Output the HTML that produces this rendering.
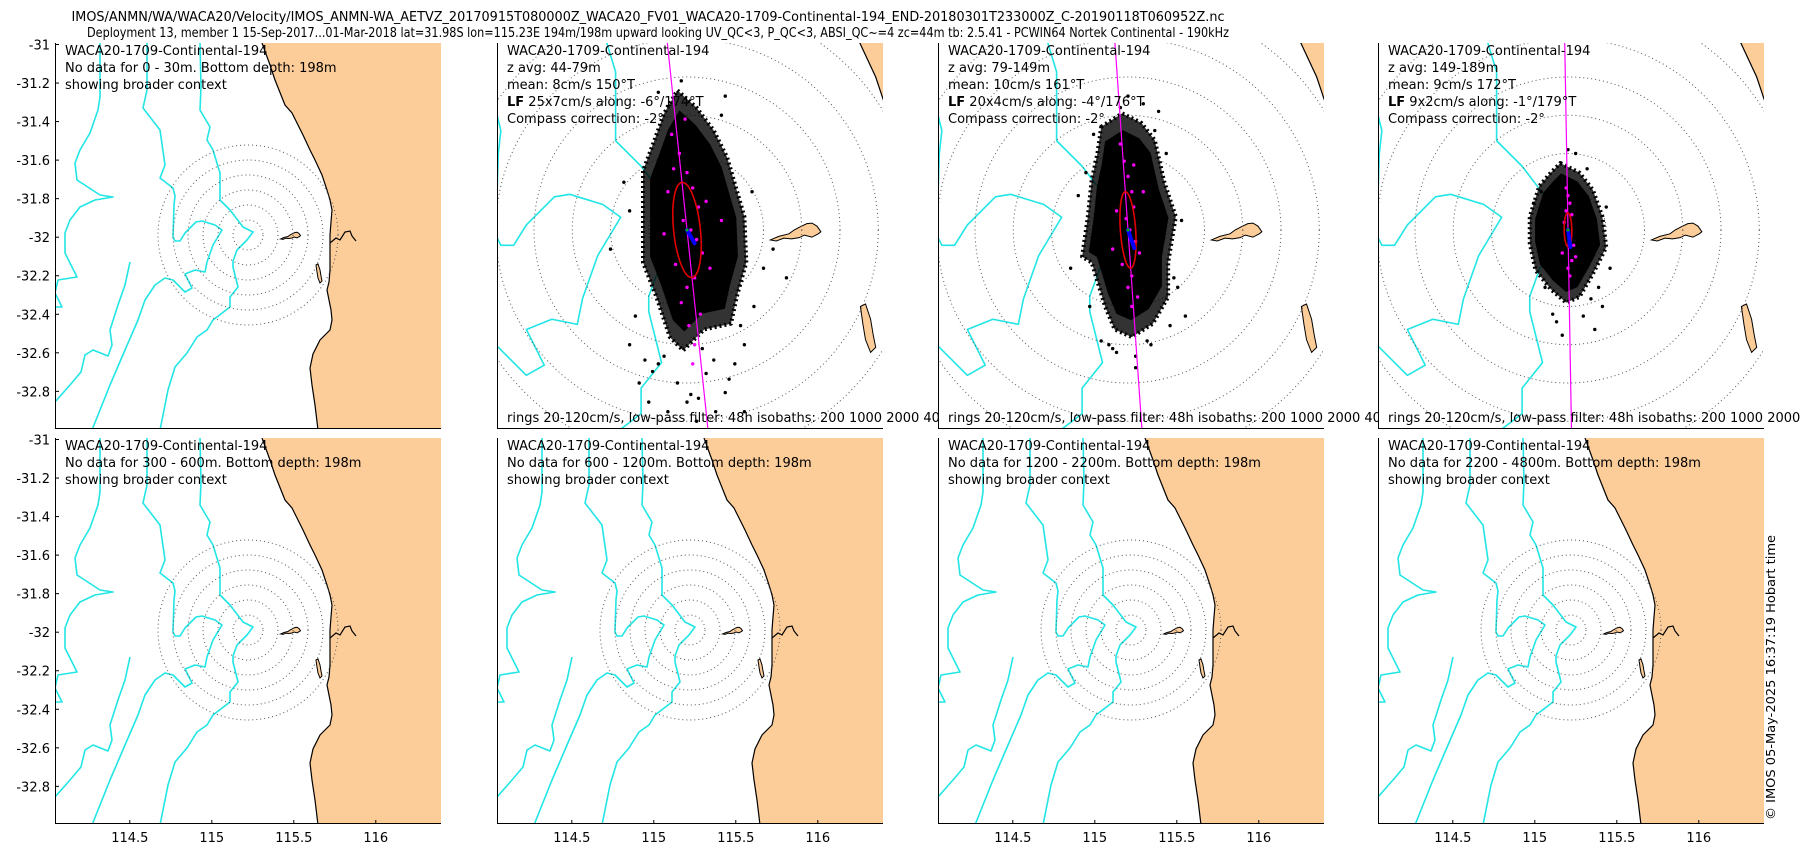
<!DOCTYPE html>
<html><head><meta charset="utf-8"><style>
html,body{margin:0;padding:0;background:#fff}
svg{display:block}
text{font-family:"DejaVu Sans","Liberation Sans",sans-serif;fill:#000}
</style></head><body>
<svg id="fig" xmlns="http://www.w3.org/2000/svg" width="1800" height="850" viewBox="0 0 1800 850">
<rect x="0" y="0" width="1800" height="850" fill="#fff"/>
<text x="648" y="21" font-size="13" text-anchor="middle" textLength="1153" lengthAdjust="spacingAndGlyphs">IMOS/ANMN/WA/WACA20/Velocity/IMOS_ANMN-WA_AETVZ_20170915T080000Z_WACA20_FV01_WACA20-1709-Continental-194_END-20180301T233000Z_C-20190118T060952Z.nc</text>
<text x="658" y="37" font-size="13" text-anchor="middle" textLength="1142" lengthAdjust="spacingAndGlyphs">Deployment 13, member 1 15-Sep-2017...01-Mar-2018 lat=31.98S lon=115.23E 194m/198m upward looking UV_QC&lt;3, P_QC&lt;3, ABSI_QC~=4 zc=44m tb: 2.5.41 - PCWIN64 Nortek Continental - 190kHz</text>
<g id="panels"></g>
<text transform="translate(1775,820) rotate(-90)" font-size="12" textLength="285" lengthAdjust="spacingAndGlyphs">© IMOS 05-May-2025 16:37:19 Hobart time</text>
</svg>
<script>
// ---- data ----
const zAvg = ["44-79m", "79-149m", "149-189m"];
const meanSpeed = [8, 10, 9];          // cm/s
const meanDir = [150, 161, 172];       // deg True
const lfMajor = [25, 20, 9];           // cm/s
const lfMinor = [7, 4, 2];             // cm/s
const alongAngle = [-6, -4, -1];
const alongDir = [174, 176, 179];
const noDataRanges = ["0 - 30m", "300 - 600m", "600 - 1200m", "1200 - 2200m", "2200 - 4800m"];
const latTicks = [-31, -31.2, -31.4, -31.6, -31.8, -32, -32.2, -32.4, -32.6, -32.8];
const lonTicks = [114.5, 115, 115.5, 116];
const ringSpeeds = [20, 40, 60, 80, 100, 120];
// velocity-cloud outlines (u east, v north, cm/s)
const cloudU = [
 [-5,5,14,21,30,31,26,23,9,-2,-9,-16,-23,-23,-23,-17,-12],
 [-14,-3,7,14,19,25,21,21,13,2,-7,-12,-19,-24,-21,-19,-16],
 [-4,6,13,18,20,13,6,-1,-9,-17,-20,-20,-15,-9]];
const cloudV = [
 [73,64,52,38,7,-17,-35,-49,-52,-63,-56,-35,-17,7,31,47,61],
 [54,61,56,47,25,7,-17,-35,-49,-56,-52,-40,-17,-14,7,26,40],
 [35,30,21,7,-9,-23,-35,-38,-31,-21,-7,7,23,30]];
// visible outlier samples (cm/s)
const outU = [
 [-15,-5,10,20,-10,5,15,-20,25,-25,0,10,30,-30,35,40,-30,-40,20,-15,30,-5,45,52,-12,8,-18,2,14,-8,22,-22,6,-3,18,-27,34,-33,28,12],
 [-8,4,12,-14,22,28,-26,-30,4,8,-4,26,30,-18,16,-10,20,-22,10,0,24,-20,-6,14],
 [-6,8,14,18,-3,22,-18,4,12,-12,10,-14,16,0,-8,20]];
const outV = [
 [-70,-80,-75,-85,-95,-100,-95,-90,-70,-80,-90,-105,-60,-60,-40,-20,10,-10,70,72,-95,-105,-10,-25,-66,-62,-74,-86,-68,-110,-78,-68,-88,78,60,-45,20,25,-50,-112],
 [-62,-66,-60,-58,-50,5,18,-20,-72,66,64,-30,-45,50,62,-60,40,30,-58,70,-25,-40,-64,52],
 [-48,-45,-52,-40,-55,-20,14,40,-36,-30,32,20,-30,42,-44,12]];
const magU = [
 [-8,-4,0,3,6,-2,2,5,8,-6,4,0,-3,7,10,-10,1,-1,12,4,-7,3,18,-12],
 [-4,-2,0,2,3,-1,1,4,6,-3,2,0,-6,5,8,-8,2,3],
 [-1,0,1,2,-2,0,1,3,-3,2,0,1,-1,4]];
const magV = [
 [50,40,30,22,12,5,0,-5,-12,-18,-25,-30,-38,-44,15,20,-50,58,-20,-60,32,-70,5,-2],
 [45,36,28,20,12,6,0,-6,-12,-18,-24,-30,10,-35,20,-10,-40,34],
 [22,18,14,8,4,0,-4,-8,-12,-16,-20,-24,10,-14]];
// ---- map geometry (panel-1 pixel frame, absolute) ----
const coast = [[262,43],[270,65],[275,80],[285,105],[292,113],[298,125],[303,135],[310,150],[315,160],[322,175],[327,190],[330,200],[332,210],[331,222],[330,235],[330,245],[330,258],[330,270],[329,282],[327,290],[329,300],[331,310],[332,320],[330,330],[320,340],[313,354],[310,368],[312,385],[315,405],[318,430]];
const river = [[330,243],[336,238],[340,240],[345,232],[350,231],[352,236],[356,241]];
const rottnest = [[280.7,238.9],[284,237.5],[288,236.5],[290,235],[292.5,233.7],[295,232.5],[297,232.3],[299,233.5],[300.5,235.7],[299.5,236.5],[297,237.8],[294,237],[292,238],[289,238.5],[286,238.2],[283,239.3]];
const garden = [[316,265],[318,264],[320,270],[321,276],[322,281],[320,283],[318,278],[317,272]];
const isobaths = [
 [[200,43],[201,87],[200,110],[210,127],[207,140],[213,150],[220,173],[220,200],[230,210],[243,227],[253,232],[247,240],[237,250],[233,261],[233,267],[238,287],[230,297],[230,307],[213,320],[207,330],[197,337],[187,353],[175,367],[168,390],[160,430]],
 [[147,43],[147,90],[143,108],[160,130],[165,165],[160,178],[173,188],[175,196],[174,205],[173,237],[175,241],[180,241],[185,233],[190,228],[196,222],[202,221],[215,225],[222,230],[213,245],[207,262],[205,272],[195,270],[185,274],[192,288],[185,292],[173,280],[165,278],[155,285],[145,300],[138,320],[125,350],[110,385],[92,430]],
 [[100,43],[100,97],[98,110],[90,133],[80,150],[75,163],[77,180],[100,195],[113,197],[95,200],[80,207],[70,220],[65,233],[65,253],[77,277],[58,280],[55,293],[62,307],[55,307]],
 [[55,402],[70,385],[81,372],[85,355],[93,350],[108,356],[112,345],[110,330],[118,305],[125,285],[130,262]]
];
// ---- layout ----
const lefts = [55, 497, 938, 1378], tops = [43, 438], W = 386, H = 386;
const P1L = 55, P1T = 43, MOOR = [248, 235];
const ZOOM = 2.55, CX = 190, CY = 187;
const ringPx = 15; // panel-1 px per 20 cm/s
const pxPerCm = ringPx * ZOOM / 20;
const NS = "http://www.w3.org/2000/svg";
const root = document.getElementById('panels');
function mk(tag, attrs, parent) { const e = document.createElementNS(NS, tag); for (const k in attrs) e.setAttribute(k, attrs[k]); (parent || root).appendChild(e); return e; }
function pts(a) { return a.map(p => p[0] + ',' + p[1]).join(' '); }
const latY = (lat, top) => top + 1.5 + (-31 - lat) * 192.7;
const lonX = (lon, left) => left + 1 + (lon - 114.05) * 164;

let pid = 0;
function drawMap(g) {
  const land = coast.concat([[700, 430], [700, 43]]);
  const l = mk('polygon', { points: pts(land), fill: '#fccc99', stroke: 'none' }, g);
  
  
  const c = mk('polyline', { points: pts(coast), fill: 'none', stroke: '#000', 'stroke-width': 1.2, 'vector-effect': 'non-scaling-stroke' }, g);
  
  
  mk('polyline', { points: pts(river), fill: 'none', stroke: '#000', 'stroke-width': 1.2, 'vector-effect': 'non-scaling-stroke' }, g);
  for (const isl of [rottnest, garden]) {
    const p = mk('polygon', { points: pts(isl), fill: '#fccc99', stroke: '#000', 'stroke-width': 1, 'vector-effect': 'non-scaling-stroke' }, g);
    
    
  }
  isobaths.forEach(iso => {
    const p = mk('polyline', { points: pts(iso), fill: 'none', stroke: '#22e5e5', 'stroke-width': 1.6, 'vector-effect': 'non-scaling-stroke', 'stroke-linejoin': 'round' }, g);
    
    
  });
  ringSpeeds.forEach(s => {
    const r = mk('circle', { cx: MOOR[0], cy: MOOR[1], r: ringPx * s / 20, fill: 'none', stroke: '#555', 'stroke-width': 1, 'stroke-dasharray': '1 3', 'vector-effect': 'non-scaling-stroke' }, g);
    
    
  });
}

function panel(row, col) {
  const left = lefts[col], top = tops[row];
  const id = 'clip' + (pid++);
  const cp = mk('clipPath', { id: id });
  mk('rect', { x: left, y: top, width: W, height: H }, cp);
  const g = mk('g', {});
  
  
  mk('rect', { x: left, y: top, width: W, height: H, fill: '#fff' }, g);
  const inner = mk('g', { 'clip-path': 'url(#' + id + ')' }, g);
  const isData = row === 0 && col > 0;
  const mg = mk('g', {}, inner);
  if (isData) mg.setAttribute('transform', `translate(${left + CX},${top + CY}) scale(${ZOOM}) translate(${-MOOR[0]},${-MOOR[1]})`);
  else mg.setAttribute('transform', `translate(${left - P1L},${top - P1T})`);
  drawMap(mg);
  const cx = left + CX, cy = top + CY;
  if (isData) {
    const i = col - 1;
    const ux = u => cx + u * pxPerCm, vy = v => cy - v * pxPerCm;
    const outline = cloudU[i].map((u, k) => [ux(u), vy(cloudV[i][k])]);
    const ox = outline.reduce((s, p) => s + p[0], 0) / outline.length, oy = outline.reduce((s, p) => s + p[1], 0) / outline.length;
    const o = mk('polygon', { points: pts(outline), fill: '#000', 'fill-opacity': 0.8, stroke: '#000', 'stroke-width': 4, 'stroke-dasharray': '2 3', 'stroke-linejoin': 'round' }, inner);
    
    
    const inr = outline.map(p => [ox + (p[0] - ox) * 0.85, oy + (p[1] - oy) * 0.85]);
    mk('polygon', { points: pts(inr), fill: '#000' }, inner);
    outU[i].forEach((u, k) => {
      const d = mk('circle', { cx: ux(u), cy: vy(outV[i][k]), r: 1.7, fill: '#000' }, inner);
      
      
    });
    // along-axis line
    const a = alongDir[i] * Math.PI / 180, L = 400;
    const ln = mk('line', { x1: cx - Math.sin(a) * L, y1: cy + Math.cos(a) * L, x2: cx + Math.sin(a) * L, y2: cy - Math.cos(a) * L, stroke: '#ff00ff', 'stroke-width': 1.2 }, inner);
    
    
    magU[i].forEach((u, k) => {
      const d = mk('circle', { cx: ux(u), cy: vy(magV[i][k]), r: 1.7, fill: '#ff00ff' }, inner);
      
      
    });
    const el = mk('ellipse', { cx: cx, cy: cy, rx: lfMinor[i] * pxPerCm, ry: lfMajor[i] * pxPerCm, fill: 'none', stroke: '#e00000', 'stroke-width': 1.6, transform: `rotate(${alongAngle[i]} ${cx} ${cy})` }, inner);
    
    
    const m = meanDir[i] * Math.PI / 180, ml = meanSpeed[i] * pxPerCm;
    const ar = mk('line', { x1: cx, y1: cy, x2: cx + Math.sin(m) * ml, y2: cy - Math.cos(m) * ml, stroke: '#0000ff', 'stroke-width': 4, 'stroke-linecap': 'round' }, inner);
    
    
    mk('circle', { cx: cx, cy: cy, r: 1.5, fill: '#00b000' }, inner);
  }
  // axes lines
  mk('line', { x1: left + 0.5, y1: top, x2: left + 0.5, y2: top + H, stroke: '#000', 'stroke-width': 1 }, g);
  mk('line', { x1: left, y1: top + H - 0.5, x2: left + W, y2: top + H - 0.5, stroke: '#000', 'stroke-width': 1 }, g);
  if (col === 0) {
    latTicks.forEach(t => {
      const y = latY(t, top);
      mk('line', { x1: left, y1: y, x2: left + 4, y2: y, stroke: '#000' }, g);
      const tx = mk('text', { x: left - 5, y: y + 5, 'font-size': 13, 'text-anchor': 'end' }, g);
      tx.textContent = String(t);
      
      
    });
  }
  if (row === 1) {
    lonTicks.forEach(t => {
      const x = lonX(t, left);
      mk('line', { x1: x, y1: top + H, x2: x, y2: top + H - 4, stroke: '#000' }, g);
      const tx = mk('text', { x: x, y: top + H + 18, 'font-size': 13, 'text-anchor': 'middle' }, g);
      tx.textContent = String(t);
      
      
    });
  }
  // annotation text
  let lines;
  if (isData) {
    const i = col - 1;
    lines = ["WACA20-1709-Continental-194", "z avg: " + zAvg[i], "mean: " + meanSpeed[i] + "cm/s " + meanDir[i] + "°T",
      "LF " + lfMajor[i] + "x" + lfMinor[i] + "cm/s along: " + alongAngle[i] + "°/" + alongDir[i] + "°T", "Compass correction: -2°"];
  } else {
    const r = noDataRanges[row === 0 ? 0 : col + 1];
    lines = ["WACA20-1709-Continental-194", "No data for " + r + ". Bottom depth: 198m", "showing broader context"];
  }
  lines.forEach((s, k) => {
    const t = mk('text', { x: left + 10, y: top + 12 + k * 17, 'font-size': 13 }, g);
    if (s.startsWith("LF ")) {
      const b = mk('tspan', { 'font-weight': 'bold' }, t); b.textContent = "LF";
      const r2 = mk('tspan', {}, t); r2.textContent = s.slice(2);
    } else t.textContent = s;
    
    
  });
  if (isData) {
    const t = mk('text', { x: left + 10, y: top + H - 7, 'font-size': 13 }, g);
    t.textContent = "rings 20-120cm/s, low-pass filter: 48h isobaths: 200 1000 2000 4000";
    
    
  }
}
for (let r = 0; r < 2; r++) for (let c = 0; c < 4; c++) panel(r, c);
</script>
</body></html>
